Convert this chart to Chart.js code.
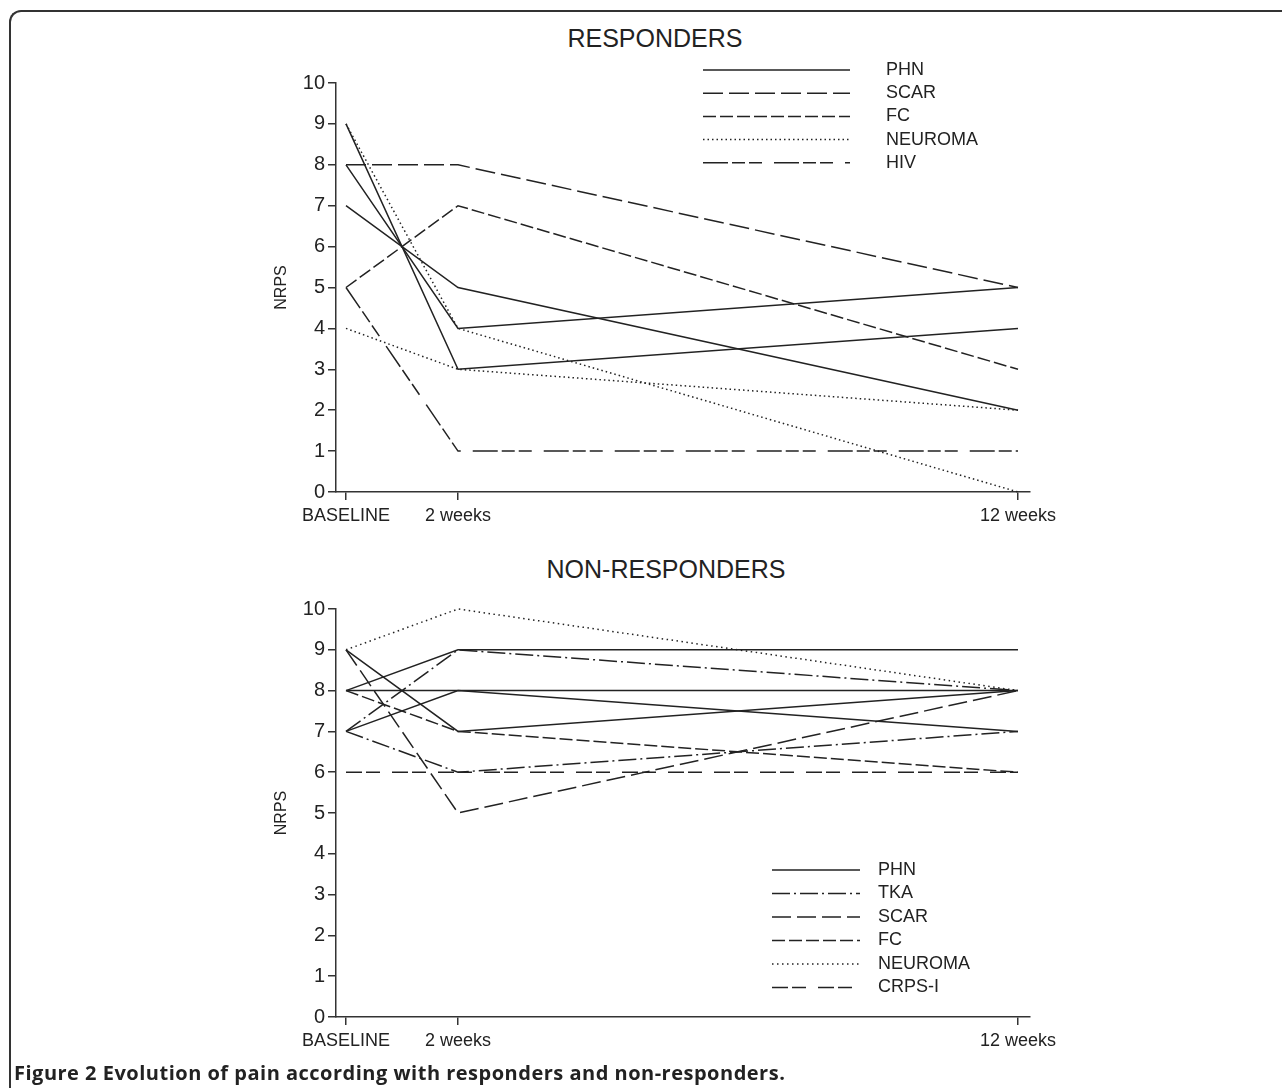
<!DOCTYPE html>
<html>
<head>
<meta charset="utf-8">
<script src="https://cdn.jsdelivr.net/npm/chart.js@4.4.0/dist/chart.umd.min.js"></script>
<style>
  html, body { margin: 0; padding: 0; background: #fff; }
  #page { position: relative; width: 1282px; height: 1088px; overflow: hidden; }
  #frame {
    position: absolute; left: 9px; top: 10px; width: 1300px; height: 1100px;
    border-top: 2px solid #333; border-left: 2px solid #333; border-top-left-radius: 12px;
  }
  canvas { position: absolute; left: 0; }
  #topChart { top: 0; }
  #bottomChart { top: 545px; }
  .chartTitle {
    position: absolute; width: 600px; text-align: center;
    font: 25px "Liberation Sans", Arial, sans-serif; color: #222; line-height: 30px;
  }
  #caption {
    position: absolute; left: 14px; top: 1059px; letter-spacing: 0.5px;
    font: bold 20px "Open Sans", sans-serif; color: #222; white-space: nowrap;
  }
</style>
</head>
<body>
<div id="page">
  <div id="frame"></div>
  <div class="chartTitle" style="left:355px; top:23px;">RESPONDERS</div>
  <div class="chartTitle" style="left:366px; top:554px;">NON-RESPONDERS</div>
  <canvas id="topChart" width="1282" height="545" style="width:1282px;height:545px"></canvas>
  <canvas id="bottomChart" width="1282" height="515" style="width:1282px;height:515px"></canvas>
  <div id="caption">Figure 2 Evolution of pain according with responders and non-responders.</div>
</div>
<script>
// --- Datos ---
const weeks = [0, 2, 12];
const weekLabels = ['BASELINE', '2 weeks', '12 weeks'];
const yMin = 0;
const yMax = 10;

// Responders: cada fila = un paciente (baseline, 2 semanas, 12 semanas)
const respLabels = ['PHN', 'SCAR', 'FC', 'NEUROMA', 'HIV'];
const respPHN = [[9, 3, 4], [8, 4, 5], [7, 5, 2]];
const respSCAR = [[8, 8, 5]];
const respFC = [[5, 7, 3]];
const respNeuroma = [[9, 4, 0], [4, 3, 2]];
const respHIV = [[5, 1, 1]];

// Non-responders
const nonLabels = ['PHN', 'TKA', 'SCAR', 'FC', 'NEUROMA', 'CRPS-I'];
const nonPHN = [[8, 9, 9], [8, 8, 8], [9, 7, 8], [7, 8, 7]];
const nonTKA = [[7, 9, 8], [7, 6, 7]];
const nonSCAR = [[9, 5, 8]];
const nonFC = [[8, 7, 6]];
const nonNeuroma = [[9, 10, 8]];
const nonCRPS = [[6, 6, 6]];

// --- Estilos de línea ---
const dashTop = {
    'PHN': [],
    'SCAR': [20, 6],
    'FC': [13, 4],
    'NEUROMA': [1.5, 3],
    'HIV': [25, 4, 13, 4, 13, 12]
};
const dashBottom = {
    'PHN': [],
    'TKA': [18, 4, 2, 4],
    'SCAR': [19, 6],
    'FC': [13, 4],
    'NEUROMA': [1.5, 3.5],
    'CRPS-I': [16, 4, 14, 12]
};

const INK = '#222';
const FONT = '"Liberation Sans", Arial, sans-serif';

function buildDatasets(labels, groups, dashes) {
    const datasets = [];
    labels.forEach((label, i) => {
        groups[i].forEach(row => {
            datasets.push({
                label: label,
                data: row.map((v, k) => ({ x: weeks[k], y: v })),
                borderColor: INK,
                borderWidth: 1.5,
                borderDash: dashes[label],
                borderCapStyle: 'butt',
                pointRadius: 0,
                tension: 0,
                fill: false,
                clip: false
            });
        });
    });
    return datasets;
}

// Leyenda dibujada con el estilo de cada serie
const legendLines = {
    id: 'legendLines',
    afterDatasetsDraw(chart, args, opts) {
        const ctx = chart.ctx;
        const seen = [];
        chart.data.datasets.forEach(ds => {
            if (!seen.find(s => s.label === ds.label)) seen.push(ds);
        });
        ctx.save();
        seen.forEach((ds, i) => {
            const y = opts.y + i * opts.rowH;
            ctx.beginPath();
            ctx.setLineDash(ds.borderDash || []);
            ctx.lineWidth = ds.borderWidth;
            ctx.strokeStyle = ds.borderColor;
            ctx.lineCap = 'butt';
            ctx.moveTo(opts.x0, y);
            ctx.lineTo(opts.x1, y);
            ctx.stroke();
            ctx.setLineDash([]);
            ctx.fillStyle = INK;
            ctx.font = '18px ' + FONT;
            ctx.textBaseline = 'middle';
            ctx.fillText(ds.label, opts.tx, y);
        });
        ctx.restore();
    }
};

function makeChart(canvasId, datasets, cfg) {
    const ctx = document.getElementById(canvasId).getContext('2d');
    return new Chart(ctx, {
        type: 'line',
        data: { datasets: datasets },
        plugins: [legendLines],
        options: {
            responsive: false,
            animation: false,
            layout: { padding: { left: 0, right: 252, top: cfg.top, bottom: 0 } },
            plugins: {
                legend: { display: false },
                tooltip: { enabled: false },
                title: { display: false },
                legendLines: cfg.legend
            },
            scales: {
                x: {
                    type: 'linear',
                    min: -10 / 56,
                    max: 12 + 12 / 56,
                    afterBuildTicks: (scale) => {
                        scale.ticks = weeks.map(w => ({ value: w }));
                    },
                    afterFit: (scale) => { scale.height = cfg.xHeight; },
                    ticks: {
                        color: INK,
                        padding: 5,
                        maxRotation: 0,
                        font: { family: FONT, size: 18 },
                        callback: (value) => weekLabels[weeks.indexOf(value)]
                    },
                    grid: { drawOnChartArea: false, drawTicks: true, tickLength: 8, color: '#333', lineWidth: 1.5 },
                    border: { display: true, color: '#333', width: 1.5 }
                },
                y: {
                    min: yMin,
                    max: yMax,
                    afterFit: (scale) => { scale.width = 336; },
                    ticks: {
                        stepSize: 1,
                        color: INK,
                        padding: 3,
                        font: { family: FONT, size: 20 }
                    },
                    title: {
                        display: true,
                        text: 'NRPS',
                        color: INK,
                        font: { family: FONT, size: 16, lineHeight: 1.2 },
                        padding: { top: 272.4, bottom: 0 }
                    },
                    grid: { drawOnChartArea: false, drawTicks: true, tickLength: 8, color: '#333', lineWidth: 1.5 },
                    border: { display: true, color: '#333', width: 1.5 }
                }
            }
        }
    });
}

// --- Inicialización ---
function init() {
    makeChart('topChart',
        buildDatasets(respLabels, [respPHN, respSCAR, respFC, respNeuroma, respHIV], dashTop),
        {
            top: 83,
            xHeight: 53,
            legend: { x0: 703, x1: 850, tx: 886, y: 70, rowH: 23.2 }
        });

    makeChart('bottomChart',
        buildDatasets(nonLabels, [nonPHN, nonTKA, nonSCAR, nonFC, nonNeuroma, nonCRPS], dashBottom),
        {
            top: 64,
            xHeight: 43,
            legend: { x0: 772, x1: 860, tx: 878, y: 325, rowH: 23.5 }
        });
}

document.fonts.load('18px "Liberation Sans"').then(init, init);
</script>
</body>
</html>
